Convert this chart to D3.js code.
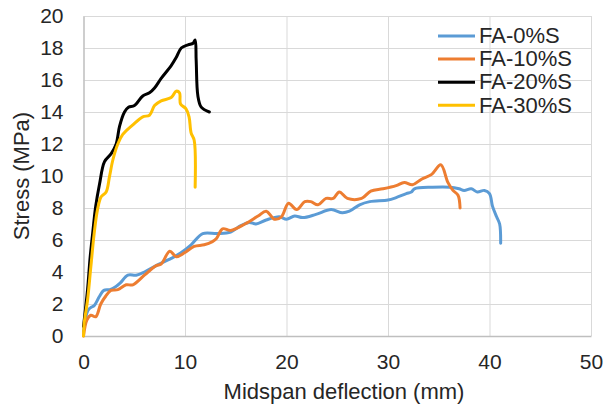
<!DOCTYPE html>
<html>
<head>
<meta charset="utf-8">
<script src="https://cdn.jsdelivr.net/npm/d3@7"></script>
<style>
  body { margin: 0; background: #fff; }
  svg { display: block; font-family: "Liberation Sans", Arial, sans-serif; }
</style>
</head>
<body>
<svg id="chart" width="608" height="407"></svg>
<script>
// series names and colours
const seriesNames = ['FA-0%S', 'FA-10%S', 'FA-20%S', 'FA-30%S'];
const seriesColors = ['#5B9BD5', '#ED7D31', '#000000', '#FFC000'];

// [deflection mm, stress MPa]
const fa0 = [[0,0.3],[0.43,1.6],[0.76,1.8],[1.05,1.9],[1.55,2.45],[2.0,2.85],[2.6,2.9],[3.2,3.1],[3.6,3.3],
  [4.37,3.8],[5.19,3.8],[6.0,4.0],[7.16,4.4],[8.64,4.85],[9.6,5.2],[10.6,5.7],[11.75,6.4],[13.2,6.4],
  [14.5,6.5],[15.5,6.9],[16.35,7.1],[17.0,7.0],[18.0,7.25],[19.3,7.45],[20.0,7.3],[20.8,7.5],[21.6,7.4],
  [22.9,7.6],[24.4,7.9],[25.5,7.7],[26.2,7.8],[27.2,8.2],[28.2,8.4],[30.0,8.5],[30.8,8.65],[31.8,8.9],
  [32.3,9.0],[32.6,9.2],[34.4,9.3],[36.1,9.3],[37.0,9.2],[37.5,9.1],[38.2,9.2],[38.8,9.0],[39.5,9.1],
  [40.0,8.9],[40.3,8.1],[40.7,7.45],[41.0,7.0],[41.1,5.8]];
const fa10 = [[0,0],[0.33,1.0],[0.72,1.3],[1.2,1.2],[1.7,2.0],[2.2,2.5],[2.7,2.85],[3.38,2.9],[4.2,3.2],
  [4.86,3.2],[6.0,3.8],[7.16,4.4],[7.65,4.5],[8.5,5.3],[9.13,4.96],[9.95,5.2],[10.9,5.6],[11.9,5.7],
  [12.7,5.9],[13.1,6.1],[13.7,6.7],[14.5,6.6],[15.9,7.0],[17.2,7.5],[18.0,7.8],[18.8,7.3],[19.5,7.45],
  [20.2,8.3],[21.0,7.9],[21.8,8.4],[22.4,8.4],[23.1,8.2],[23.9,8.6],[24.6,8.6],[25.2,9.0],[26.0,8.6],
  [27.4,8.6],[28.3,9.06],[29.5,9.2],[30.8,9.4],[31.6,9.6],[32.4,9.45],[33.3,9.8],[34.3,10.1],[35.2,10.7],
  [35.9,9.6],[36.4,9.1],[36.9,8.8],[37.1,8.0]];
const fa20 = [[0,0.6],[0.4,2.9],[0.66,4.96],[0.9,6.4],[1.2,8.1],[1.58,9.5],[2.07,10.9],[2.73,11.4],
  [3.22,12.0],[3.55,13.1],[4.04,14.0],[4.43,14.3],[5.02,14.4],[5.84,15.0],[6.5,15.2],[7.0,15.5],
  [7.65,16.1],[8.64,16.9],[9.13,17.4],[9.63,18.0],[10.3,18.2],[10.8,18.3],[11.0,18.5],[11.1,17.25],
  [11.27,15.0],[11.6,14.3],[12.4,14.0]];
const fa30 = [[0,0],[0.07,0.8],[0.4,2.25],[0.72,4.3],[1.05,6.4],[1.38,7.9],[1.74,8.7],[2.23,9.0],
  [2.56,9.96],[2.89,11.0],[3.38,12.0],[3.87,12.6],[4.86,13.2],[5.84,13.7],[6.5,13.8],[7.0,14.4],
  [7.65,14.7],[8.64,14.9],[9.13,15.3],[9.46,15.2],[9.56,14.5],[10.1,14.2],[10.4,13.7],[10.6,12.7],
  [10.9,12.25],[11.0,9.3]];
const seriesData = [fa0, fa10, fa20, fa30];

const xTicks = [0, 10, 20, 30, 40, 50];
const yTicks = [0, 2, 4, 6, 8, 10, 12, 14, 16, 18, 20];

const svg = d3.select('#chart');
const margin = { top: 16, right: 17, bottom: 71, left: 83.5 };
const width = 608 - margin.left - margin.right;
const height = 407 - margin.top - margin.bottom;

const x = d3.scaleLinear().domain([0, 50]).range([0, width]);
const y = d3.scaleLinear().domain([0, 20]).range([height, 0]);

const g = svg.append('g').attr('transform', `translate(${margin.left},${margin.top})`);

// gridlines
g.append('g')
    .attr('transform', `translate(0,${height})`)
    .call(d3.axisBottom(x).tickValues(xTicks).tickSize(-height).tickFormat(''))
    .call(a => a.select('.domain').remove())
    .selectAll('line').attr('stroke', '#d9d9d9').attr('stroke-width', 1);
g.append('g')
    .call(d3.axisLeft(y).tickValues(yTicks).tickSize(-width).tickFormat(''))
    .call(a => a.select('.domain').remove())
    .selectAll('line').attr('stroke', '#d9d9d9').attr('stroke-width', 1);

// axes
const xAxis = g.append('g')
    .attr('transform', `translate(0,${height})`)
    .call(d3.axisBottom(x).tickValues(xTicks).tickSize(0).tickPadding(18));
const yAxis = g.append('g')
    .call(d3.axisLeft(y).tickValues(yTicks).tickSize(0).tickPadding(20));
[xAxis, yAxis].forEach(a => {
    a.select('.domain').attr('stroke', '#bfbfbf').attr('stroke-width', 1.3);
    a.selectAll('text').attr('font-size', 21).attr('fill', '#262626')
        .attr('font-family', '"Liberation Sans", Arial, sans-serif');
});

// lines
const line = d3.line()
    .x(d => x(d[0]))
    .y(d => y(d[1]))
    .curve(d3.curveCatmullRom.alpha(0.5));

seriesData.forEach((data, i) => {
    g.append('path')
        .datum(data)
        .attr('fill', 'none')
        .attr('stroke', seriesColors[i])
        .attr('stroke-width', 3)
        .attr('stroke-linejoin', 'round')
        .attr('stroke-linecap', 'round')
        .attr('d', line);
});

// axis titles
svg.append('text')
    .attr('x', 344)
    .attr('y', 399)
    .attr('text-anchor', 'middle')
    .attr('font-size', 22)
    .attr('fill', '#262626')
    .text('Midspan deflection (mm)');
svg.append('text')
    .attr('transform', `translate(23,${margin.top + height / 2}) rotate(-90)`)
    .attr('text-anchor', 'middle')
    .attr('dominant-baseline', 'middle')
    .attr('font-size', 22)
    .attr('fill', '#262626')
    .text('Stress (MPa)');

// legend
const legend = svg.append('g').attr('transform', 'translate(438,36)');
seriesNames.forEach((name, i) => {
    const row = legend.append('g').attr('transform', `translate(0,${i * 23.1})`);
    row.append('line')
        .attr('x1', 0).attr('x2', 37)
        .attr('stroke', seriesColors[i])
        .attr('stroke-width', 3);
    row.append('text')
        .attr('x', 41)
        .attr('dy', '0.33em')
        .attr('font-size', 22)
        .attr('fill', '#262626')
        .text(name);
});
</script>
</body>
</html>
